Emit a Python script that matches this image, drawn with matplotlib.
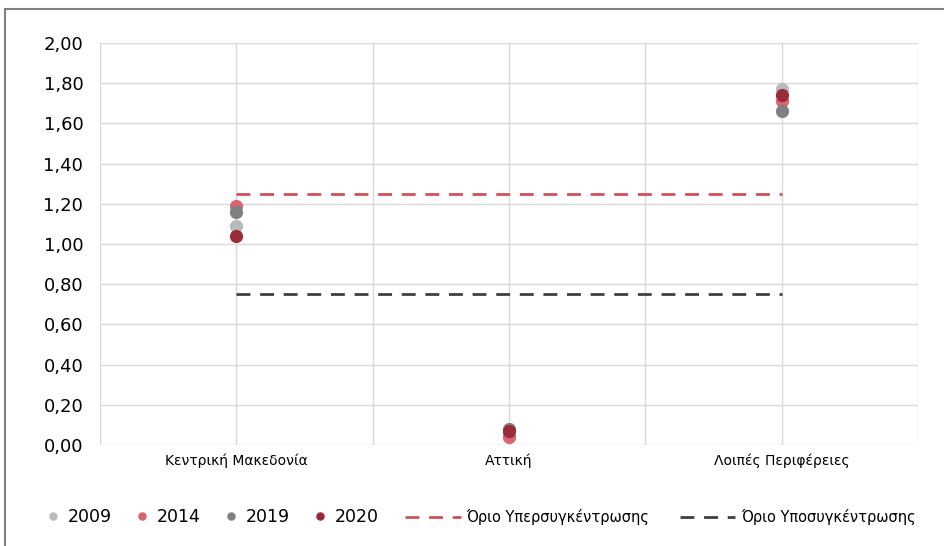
import numpy as np
import matplotlib.pyplot as plt
from matplotlib.lines import Line2D

regions = ['Κεντρική Μακεδονία', 'Αττική', 'Λοιπές Περιφέρειες']
years = ['2009', '2014', '2019', '2020']
v2009 = [1.09, 0.05, 1.77]
v2014 = [1.19, 0.04, 1.71]
v2019 = [1.16, 0.08, 1.66]
v2020 = [1.04, 0.07, 1.74]
upper_limit = 1.25
lower_limit = 0.75

colors = ['#b8babd', '#d9656f', '#7f8083', '#9a2c3a']

plt.rcParams['font.family'] = ['DejaVu Sans']
fig = plt.figure(figsize=(9.44, 5.46), dpi=100)
ax = fig.add_axes([100/944, 1-445/546, 818/944, 402/546])

xpos = np.arange(len(regions)) + 0.5
pts = []
for vals, yr, c in zip([v2009, v2014, v2019, v2020], years, colors):
    p, = ax.plot(xpos, vals, 'o', color=c, ms=8.5, label=yr, zorder=3)
    pts.append(p)

l1, = ax.plot([xpos[0], xpos[-1]], [upper_limit]*2, '--', color='#d0505c', lw=2,
              dashes=(5, 3.5), label='Όριο Υπερσυγκέντρωσης')
l2, = ax.plot([xpos[0], xpos[-1]], [lower_limit]*2, '--', color='#404040', lw=2,
              dashes=(5, 3.5), label='Όριο Υποσυγκέντρωσης')

ax.set_xlim(0, 3)
ax.set_ylim(0, 2)
yt = np.arange(0, 2.01, 0.2)
ax.set_yticks(yt)
ax.set_yticklabels([f'{t:.2f}'.replace('.', ',') for t in yt], fontsize=13)
ax.set_xticks(np.arange(0, 3.01, 0.5))
ax.set_xticklabels(['', regions[0], '', regions[1], '', regions[2], ''], fontsize=10)
ax.tick_params(length=0, pad=6)
ax.tick_params(axis='y', pad=12)
ax.grid(True, color='#d9d9d9', lw=1)
for s in ax.spines.values():
    s.set_visible(False)

leg1 = fig.legend(handles=pts, loc='center left', bbox_to_anchor=(32/944, 1-517/546),
                  ncol=4, frameon=False, fontsize=12.5, handlelength=0.6,
                  columnspacing=1.45, handletextpad=0.55, markerscale=0.6)
leg2 = fig.legend(handles=[l1, l2], loc='center left', bbox_to_anchor=(392/944, 1-517/546),
                  ncol=2, frameon=False, fontsize=10.5, handlelength=3.8,
                  columnspacing=2.1, handletextpad=0.4)

# outer frame
fig.add_artist(Line2D([5/944, 1], [1-9/546]*2, color='#808080', lw=1.5))
fig.add_artist(Line2D([5/944]*2, [0, 1-9/546], color='#808080', lw=1.5))

fig.savefig('out.png', dpi=100)
